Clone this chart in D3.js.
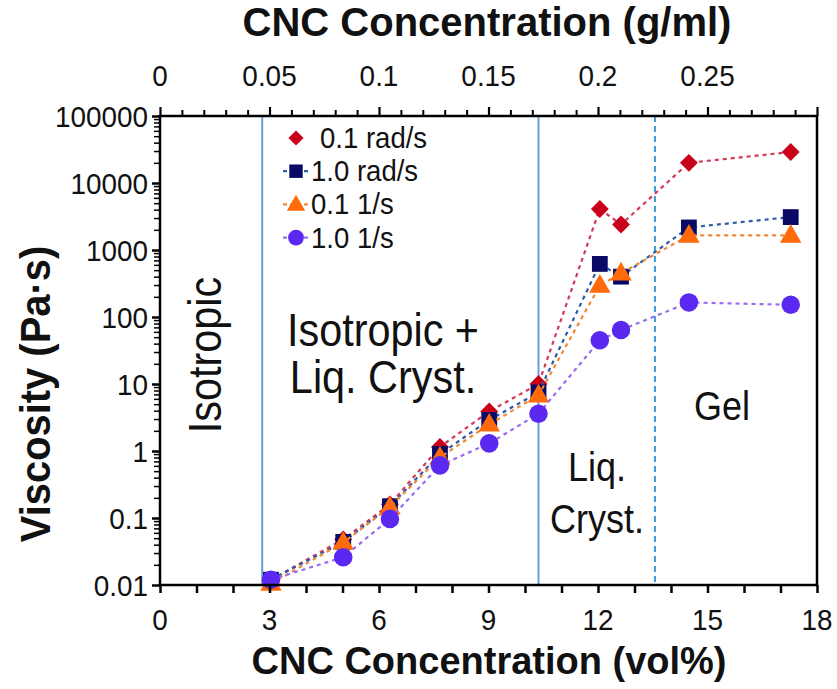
<!DOCTYPE html>
<html>
<head>
<meta charset="utf-8">
<script src="https://cdn.jsdelivr.net/npm/d3@7"></script>
<style>
  html, body { margin: 0; padding: 0; background: #fff; }
  svg { display: block; font-family: "Liberation Sans", Arial, sans-serif; }
</style>
</head>
<body>
<svg id="chart" width="837" height="689"></svg>
<script>
// CNC concentration (vol%) at which each viscosity was measured
const volPct = [3.04, 5.02, 6.3, 7.67, 9.02, 10.37, 12.05, 12.63, 14.49, 17.28];

// Viscosity (Pa·s) for each measurement condition
const visc01rad = [0.012, 0.048, 0.16, 1.15, 3.9, 10, 4100, 2400, 20000, 29000];
const visc10rad = [0.012, 0.044, 0.15, 0.9, 2.9, 7.5, 620, 400, 2170, 3100];
const visc01s   = [0.0105, 0.043, 0.145, 0.8, 2.5, 6.8, 295, 450, 1650, 1650];
const visc10s   = [0.012, 0.026, 0.097, 0.61, 1.3, 3.6, 45, 64, 165, 152];

const seriesNames = ["0.1 rad/s", "1.0 rad/s", "0.1 1/s", "1.0 1/s"];

// Axis ticks
const bottomTickLabels = [0, 3, 6, 9, 12, 15, 18];
const topTickLabels = [0, 0.05, 0.1, 0.15, 0.2, 0.25];
const yTickLabels = [0.01, 0.1, 1, 10, 100, 1000, 10000, 100000];

// Phase boundaries (vol%)
const boundaries = [2.8, 10.37, 13.56];

const svg = d3.select("#chart");
const pLeft = 160, pRight = 817, pTop = 116, pBottom = 585;

const x = d3.scaleLinear().domain([0, 18]).range([pLeft, pRight]);
const xTop = d3.scaleLinear().domain([0, 0.3]).range([pLeft, pRight]);
const y = d3.scaleLog().domain([0.01, 100000]).range([pBottom, pTop]);

const series = [
  { name: seriesNames[0], values: visc01rad, marker: "diamond",  fill: "#c8001a", line: "#d23a5a" },
  { name: seriesNames[1], values: visc10rad, marker: "square",   fill: "#0a0a66", line: "#2f5aa8" },
  { name: seriesNames[2], values: visc01s,   marker: "triangle", fill: "#ff6a0a", line: "#f08a3a" },
  { name: seriesNames[3], values: visc10s,   marker: "circle",   fill: "#5a28f0", line: "#9b6cf0" }
];

// Text drawn slightly condensed horizontally
function label(g, tx, ty, str, size, sx, anchor, rot) {
  return g.append("text")
    .attr("transform", `translate(${tx},${ty})${rot ? ` rotate(${rot})` : ""} scale(${sx},1)`)
    .attr("text-anchor", anchor).attr("font-size", size).attr("fill", "#111").text(str);
}

function drawMarker(g, type, cx, cy, scale, color) {
  let m;
  if (type === "diamond") {
    m = g.append("path").attr("d", d3.symbol().type(d3.symbolSquare).size(160 * scale * scale)())
      .attr("transform", `translate(${cx},${cy}) rotate(45)`);
  } else if (type === "square") {
    m = g.append("path").attr("d", d3.symbol().type(d3.symbolSquare).size(250 * scale * scale)())
      .attr("transform", `translate(${cx},${cy})`);
  } else if (type === "triangle") {
    m = g.append("path").attr("d", d3.symbol().type(d3.symbolTriangle).size(200 * scale * scale)())
      .attr("transform", `translate(${cx},${cy + 1})`);
  } else {
    m = g.append("path").attr("d", d3.symbol().type(d3.symbolCircle).size(270 * scale * scale)())
      .attr("transform", `translate(${cx},${cy})`);
  }
  m.attr("fill", color);
}

// Phase boundary lines
const bg = svg.append("g");
boundaries.forEach((b, i) => {
  bg.append("line")
    .attr("x1", x(b)).attr("x2", x(b))
    .attr("y1", pTop).attr("y2", pBottom)
    .attr("stroke", i === 2 ? "#3d9ad6" : "#6a9fd4")
    .attr("stroke-width", 2)
    .attr("stroke-dasharray", i === 2 ? "6,4" : null);
});

// Phase labels
const lab = svg.append("g");
label(lab, 221, 355, "Isotropic", 46, 0.9, "middle", -90);
label(lab, 383, 346, "Isotropic +", 46, 0.9, "middle");
label(lab, 383, 393, "Liq. Cryst.", 46, 0.9, "middle");
label(lab, 597, 481, "Liq.", 40, 0.9, "middle");
label(lab, 597, 533, "Cryst.", 40, 0.9, "middle");
label(lab, 722, 420, "Gel", 40, 0.9, "middle");

// Data series
const line = d3.line().x((d, i) => x(volPct[i])).y(d => y(d));
series.forEach(s => {
  const g = svg.append("g");
  g.append("path").datum(s.values).attr("d", line)
    .attr("fill", "none").attr("stroke", s.line).attr("stroke-width", 2.2)
    .attr("stroke-dasharray", "4,4");
  s.values.forEach((v, i) => drawMarker(g, s.marker, x(volPct[i]), y(v), 1, s.fill));
});

// Legend
const lg = svg.append("g");
series.forEach((s, i) => {
  const cy = 138 + i * 33.2;
  if (i > 0) {
    lg.append("line").attr("x1", 283).attr("x2", 309).attr("y1", cy).attr("y2", cy)
      .attr("stroke", s.line).attr("stroke-width", 2.2).attr("stroke-dasharray", "4,3");
  }
  drawMarker(lg, s.marker, 296, cy, 0.85, s.fill);
  label(lg, i === 0 ? 320 : 311, cy + 10, s.name, 29, 0.95, "start");
});

// Frame
svg.append("rect").attr("x", pLeft).attr("y", pTop)
  .attr("width", pRight - pLeft).attr("height", pBottom - pTop)
  .attr("fill", "none").attr("stroke", "#000").attr("stroke-width", 2.5);

// Bottom axis
const bAxis = svg.append("g").attr("transform", `translate(0,${pBottom})`)
  .call(d3.axisBottom(x).tickValues(d3.range(0, 19, 1)).tickSize(8).tickFormat(""));
bAxis.select(".domain").remove();
bAxis.selectAll("line").attr("stroke", "#000").attr("stroke-width", 2.5);
const bLab = svg.append("g");
bottomTickLabels.forEach(d => label(bLab, x(d), 630, d, 30, 0.93, "middle"));

// Top axis (g/ml)
const topMinor = d3.range(0, 31).filter(d => d % 5 !== 0).map(d => d / 100);
const topMajor = d3.range(0, 7).map(d => d * 0.05);
const tAxisMinor = svg.append("g").attr("transform", `translate(0,${pTop})`)
  .call(d3.axisTop(xTop).tickValues(topMinor).tickSize(6).tickFormat(""));
tAxisMinor.select(".domain").remove();
tAxisMinor.selectAll("line").attr("stroke", "#000").attr("stroke-width", 2);
const tAxis = svg.append("g").attr("transform", `translate(0,${pTop})`)
  .call(d3.axisTop(xTop).tickValues(topMajor).tickSize(9).tickFormat(""));
tAxis.select(".domain").remove();
tAxis.selectAll("line").attr("stroke", "#000").attr("stroke-width", 2.2);
const tLab = svg.append("g");
topTickLabels.forEach(d => label(tLab, xTop(d), 86, d, 30, 0.93, "middle"));

// Left axis (log)
const minor = [];
for (let e = -2; e < 5; e++) for (let k = 2; k <= 9; k++) minor.push(k * Math.pow(10, e));
const lAxisMinor = svg.append("g").attr("transform", `translate(${pLeft},0)`)
  .call(d3.axisLeft(y).tickValues(minor).tickSize(6).tickFormat(""));
lAxisMinor.select(".domain").remove();
lAxisMinor.selectAll("line").attr("stroke", "#000").attr("stroke-width", 1.5);
const lAxis = svg.append("g").attr("transform", `translate(${pLeft},0)`)
  .call(d3.axisLeft(y).tickValues(yTickLabels).tickSize(8).tickFormat(""));
lAxis.select(".domain").remove();
lAxis.selectAll("line").attr("stroke", "#000").attr("stroke-width", 2.5);
const lLab = svg.append("g");
yTickLabels.forEach(d => label(lLab, 148, y(d) + 11, d, 30, 0.93, "end"));

// Axis titles
svg.append("text").attr("x", 487).attr("y", 36).attr("text-anchor", "middle")
  .attr("font-size", 40).attr("font-weight", "bold").attr("fill", "#111")
  .text("CNC Concentration (g/ml)");
svg.append("text").attr("x", 489).attr("y", 674).attr("text-anchor", "middle")
  .attr("font-size", 38).attr("font-weight", "bold").attr("fill", "#111")
  .text("CNC Concentration (vol%)");
svg.append("text").attr("transform", `translate(50,394) rotate(-90) scale(0.95,1)`).attr("text-anchor", "middle")
  .attr("font-size", 42).attr("font-weight", "bold").attr("fill", "#111")
  .text("Viscosity (Pa·s)");
</script>
</body>
</html>
